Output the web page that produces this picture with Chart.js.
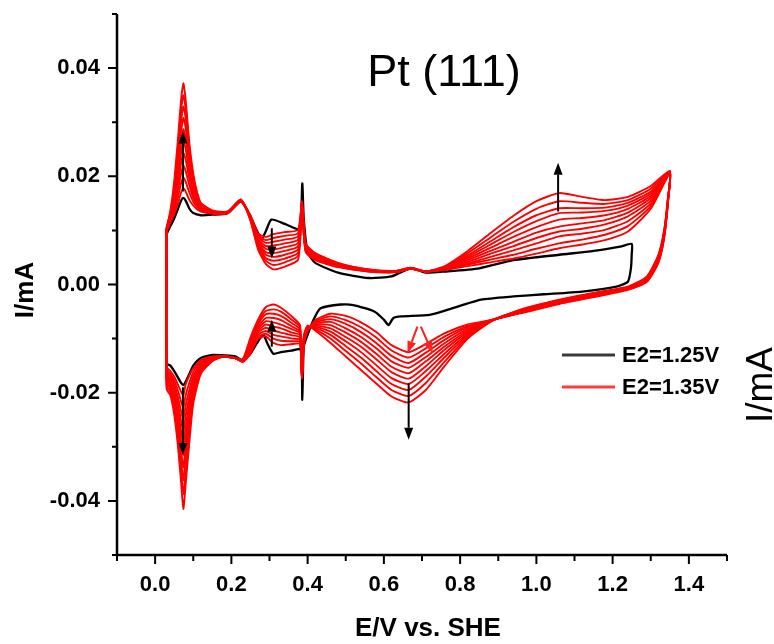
<!DOCTYPE html>
<html>
<head>
<meta charset="utf-8">
<title>Pt (111) cyclic voltammograms</title>
<script src="https://cdn.jsdelivr.net/npm/chart.js@4/dist/chart.umd.min.js"></script>
<style>
  html, body { margin: 0; padding: 0; background: #fff; }
  canvas { display: block; }
</style>
</head>
<body>
<canvas id="cv" width="774" height="644"></canvas>
<script>
// Potential grids (V vs. SHE) for the positive-going and negative-going sweeps
const E_up = [0.03, 0.04, 0.05, 0.06, 0.068, 0.074, 0.08, 0.09, 0.10, 0.11, 0.12, 0.15, 0.19, 0.225, 0.25, 0.27, 0.29, 0.31, 0.34, 0.375, 0.385, 0.395, 0.42, 0.48, 0.56, 0.63, 0.67, 0.71, 0.76, 0.82, 0.88, 0.94, 1.00, 1.06, 1.12, 1.18, 1.24, 1.30, 1.35];
const E_down = [1.345, 1.335, 1.32, 1.29, 1.24, 1.16, 1.06, 0.96, 0.88, 0.82, 0.76, 0.71, 0.665, 0.62, 0.58, 0.54, 0.50, 0.46, 0.42, 0.40, 0.39, 0.385, 0.38, 0.36, 0.33, 0.31, 0.29, 0.27, 0.25, 0.23, 0.21, 0.18, 0.15, 0.12, 0.10, 0.09, 0.08, 0.074, 0.068, 0.06, 0.05, 0.04, 0.03];

// Upper limit 1.25 V (single cycle), current in mA
const black_E_up = [0.03, 0.04, 0.05, 0.06, 0.068, 0.074, 0.08, 0.09, 0.10, 0.12, 0.15, 0.19, 0.225, 0.25, 0.27, 0.28, 0.29, 0.305, 0.34, 0.375, 0.382, 0.386, 0.39, 0.40, 0.42, 0.48, 0.56, 0.62, 0.67, 0.71, 0.76, 0.85, 0.94, 1.06, 1.15, 1.22, 1.25];
const black_I_up = [0.0093, 0.0108, 0.0122, 0.0140, 0.0155, 0.0160, 0.0155, 0.0140, 0.0132, 0.0128, 0.0129, 0.0132, 0.0153, 0.0125, 0.0095, 0.0085, 0.0098, 0.0120, 0.0112, 0.0102, 0.0110, 0.0187, 0.0120, 0.0060, 0.0040, 0.0022, 0.0012, 0.0015, 0.0030, 0.0022, 0.0024, 0.0030, 0.0045, 0.0055, 0.0062, 0.0070, 0.0075];
const black_E_down = [1.25, 1.248, 1.24, 1.21, 1.12, 1.02, 0.94, 0.855, 0.77, 0.72, 0.645, 0.625, 0.612, 0.60, 0.575, 0.52, 0.487, 0.434, 0.417, 0.40, 0.39, 0.386, 0.382, 0.36, 0.33, 0.31, 0.295, 0.284, 0.27, 0.25, 0.23, 0.21, 0.18, 0.15, 0.12, 0.10, 0.09, 0.08, 0.074, 0.068, 0.06, 0.05, 0.04, 0.03];
const black_I_down = [0.0055, 0.0030, 0.0005, -0.0004, -0.0013, -0.0018, -0.0022, -0.0028, -0.0046, -0.0056, -0.0059, -0.0062, -0.0075, -0.0065, -0.0050, -0.0038, -0.0037, -0.0044, -0.0063, -0.0093, -0.0115, -0.0213, -0.0120, -0.0122, -0.0125, -0.0128, -0.0110, -0.0093, -0.0105, -0.0128, -0.0140, -0.0133, -0.0131, -0.0130, -0.0136, -0.0150, -0.0165, -0.0180, -0.0186, -0.0182, -0.0172, -0.0160, -0.0150, -0.0146];

// Upper limit 1.35 V, successive cycles 1..10 (mA), positive-going sweep on E_up
const cycle1_up = [0.0098, 0.0115, 0.0130, 0.0150, 0.0170, 0.0178, 0.0172, 0.0156, 0.0146, 0.0139, 0.0135, 0.0131, 0.0132, 0.0154, 0.0128, 0.0094, 0.0088, 0.0093, 0.0097, 0.0101, 0.0154, 0.0076, 0.0058, 0.0040, 0.0028, 0.0025, 0.0031, 0.0024, 0.0027, 0.0034, 0.0041, 0.0048, 0.0057, 0.0067, 0.0074, 0.0082, 0.0098, 0.0140, 0.0205];
const cycle2_up = [0.0099, 0.0117, 0.0135, 0.0162, 0.0187, 0.0198, 0.0190, 0.0170, 0.0153, 0.0143, 0.0137, 0.0131, 0.0132, 0.0154, 0.0127, 0.0091, 0.0082, 0.0086, 0.0090, 0.0095, 0.0152, 0.0074, 0.0057, 0.0039, 0.0028, 0.0025, 0.0031, 0.0024, 0.0028, 0.0037, 0.0046, 0.0055, 0.0066, 0.0076, 0.0083, 0.0092, 0.0108, 0.0145, 0.0206];
const cycle3_up = [0.0100, 0.0119, 0.0141, 0.0175, 0.0205, 0.0220, 0.0210, 0.0183, 0.0160, 0.0147, 0.0139, 0.0132, 0.0132, 0.0155, 0.0126, 0.0088, 0.0077, 0.0079, 0.0083, 0.0089, 0.0150, 0.0072, 0.0055, 0.0038, 0.0027, 0.0024, 0.0030, 0.0024, 0.0028, 0.0039, 0.0051, 0.0063, 0.0076, 0.0089, 0.0094, 0.0101, 0.0117, 0.0150, 0.0206];
const cycle4_up = [0.0100, 0.0121, 0.0147, 0.0187, 0.0224, 0.0243, 0.0231, 0.0195, 0.0167, 0.0151, 0.0141, 0.0132, 0.0133, 0.0155, 0.0125, 0.0085, 0.0071, 0.0072, 0.0076, 0.0083, 0.0148, 0.0070, 0.0054, 0.0037, 0.0027, 0.0024, 0.0030, 0.0024, 0.0029, 0.0042, 0.0057, 0.0071, 0.0086, 0.0098, 0.0103, 0.0111, 0.0126, 0.0155, 0.0207];
const cycle5_up = [0.0101, 0.0123, 0.0153, 0.0200, 0.0243, 0.0265, 0.0251, 0.0207, 0.0173, 0.0154, 0.0142, 0.0133, 0.0133, 0.0155, 0.0124, 0.0082, 0.0066, 0.0065, 0.0069, 0.0077, 0.0146, 0.0069, 0.0052, 0.0036, 0.0026, 0.0024, 0.0030, 0.0024, 0.0030, 0.0045, 0.0062, 0.0079, 0.0096, 0.0107, 0.0113, 0.0119, 0.0133, 0.0160, 0.0207];
const cycle6_up = [0.0102, 0.0126, 0.0159, 0.0213, 0.0262, 0.0287, 0.0271, 0.0219, 0.0179, 0.0157, 0.0144, 0.0134, 0.0133, 0.0156, 0.0123, 0.0079, 0.0060, 0.0058, 0.0062, 0.0071, 0.0144, 0.0067, 0.0051, 0.0036, 0.0026, 0.0024, 0.0030, 0.0024, 0.0030, 0.0048, 0.0068, 0.0088, 0.0106, 0.0120, 0.0123, 0.0128, 0.0140, 0.0164, 0.0208];
const cycle7_up = [0.0102, 0.0128, 0.0165, 0.0227, 0.0281, 0.0308, 0.0290, 0.0230, 0.0185, 0.0160, 0.0145, 0.0134, 0.0134, 0.0156, 0.0122, 0.0076, 0.0055, 0.0051, 0.0055, 0.0065, 0.0142, 0.0065, 0.0050, 0.0035, 0.0025, 0.0023, 0.0029, 0.0024, 0.0031, 0.0051, 0.0074, 0.0097, 0.0117, 0.0132, 0.0133, 0.0136, 0.0146, 0.0168, 0.0208];
const cycle8_up = [0.0103, 0.0130, 0.0172, 0.0241, 0.0300, 0.0329, 0.0308, 0.0240, 0.0191, 0.0163, 0.0147, 0.0135, 0.0134, 0.0156, 0.0121, 0.0073, 0.0049, 0.0044, 0.0048, 0.0059, 0.0140, 0.0063, 0.0048, 0.0034, 0.0025, 0.0023, 0.0029, 0.0024, 0.0032, 0.0054, 0.0080, 0.0106, 0.0128, 0.0141, 0.0141, 0.0142, 0.0151, 0.0172, 0.0209];
const cycle9_up = [0.0104, 0.0133, 0.0180, 0.0255, 0.0320, 0.0350, 0.0325, 0.0250, 0.0198, 0.0167, 0.0149, 0.0136, 0.0134, 0.0157, 0.0120, 0.0069, 0.0044, 0.0036, 0.0041, 0.0053, 0.0138, 0.0062, 0.0047, 0.0033, 0.0024, 0.0023, 0.0029, 0.0024, 0.0033, 0.0058, 0.0087, 0.0116, 0.0140, 0.0154, 0.0151, 0.0149, 0.0156, 0.0177, 0.0209];
const cycle10_up = [0.0105, 0.0136, 0.0190, 0.0270, 0.0340, 0.0372, 0.0342, 0.0260, 0.0205, 0.0171, 0.0151, 0.0137, 0.0135, 0.0157, 0.0118, 0.0065, 0.0038, 0.0028, 0.0033, 0.0046, 0.0135, 0.0060, 0.0045, 0.0032, 0.0024, 0.0023, 0.0029, 0.0024, 0.0034, 0.0062, 0.0095, 0.0127, 0.0154, 0.0169, 0.0162, 0.0156, 0.0162, 0.0182, 0.0210];

// Negative-going sweep on E_down, cycles 1..10 (mA)
const cycle1_down = [0.0150, 0.0085, 0.0040, 0.0005, -0.0010, -0.0022, -0.0036, -0.0053, -0.0066, -0.0074, -0.0090, -0.0110, -0.0125, -0.0112, -0.0088, -0.0070, -0.0058, -0.0054, -0.0066, -0.0086, -0.0112, -0.0174, -0.0110, -0.0110, -0.0112, -0.0108, -0.0096, -0.0100, -0.0128, -0.0143, -0.0136, -0.0133, -0.0133, -0.0140, -0.0155, -0.0168, -0.0185, -0.0205, -0.0198, -0.0185, -0.0170, -0.0160, -0.0152];
const cycle2_down = [0.0151, 0.0087, 0.0042, 0.0006, -0.0009, -0.0021, -0.0035, -0.0052, -0.0066, -0.0077, -0.0096, -0.0118, -0.0135, -0.0122, -0.0098, -0.0079, -0.0066, -0.0059, -0.0068, -0.0085, -0.0110, -0.0172, -0.0106, -0.0105, -0.0104, -0.0100, -0.0091, -0.0097, -0.0125, -0.0143, -0.0136, -0.0133, -0.0134, -0.0143, -0.0162, -0.0181, -0.0205, -0.0227, -0.0216, -0.0197, -0.0177, -0.0165, -0.0156];
const cycle3_down = [0.0152, 0.0088, 0.0043, 0.0007, -0.0009, -0.0020, -0.0034, -0.0052, -0.0066, -0.0079, -0.0102, -0.0126, -0.0145, -0.0132, -0.0108, -0.0088, -0.0073, -0.0064, -0.0070, -0.0084, -0.0108, -0.0171, -0.0102, -0.0100, -0.0096, -0.0093, -0.0086, -0.0093, -0.0122, -0.0142, -0.0136, -0.0133, -0.0135, -0.0146, -0.0169, -0.0194, -0.0224, -0.0249, -0.0234, -0.0209, -0.0184, -0.0169, -0.0160];
const cycle4_down = [0.0153, 0.0090, 0.0045, 0.0008, -0.0008, -0.0019, -0.0033, -0.0051, -0.0067, -0.0082, -0.0108, -0.0134, -0.0154, -0.0142, -0.0118, -0.0097, -0.0081, -0.0069, -0.0072, -0.0083, -0.0106, -0.0169, -0.0098, -0.0094, -0.0089, -0.0085, -0.0080, -0.0089, -0.0119, -0.0142, -0.0136, -0.0133, -0.0136, -0.0149, -0.0176, -0.0207, -0.0243, -0.0271, -0.0252, -0.0221, -0.0191, -0.0174, -0.0164];
const cycle5_down = [0.0154, 0.0091, 0.0046, 0.0009, -0.0007, -0.0018, -0.0032, -0.0050, -0.0067, -0.0085, -0.0114, -0.0142, -0.0164, -0.0152, -0.0128, -0.0106, -0.0089, -0.0075, -0.0074, -0.0082, -0.0104, -0.0168, -0.0094, -0.0089, -0.0081, -0.0078, -0.0074, -0.0086, -0.0116, -0.0141, -0.0136, -0.0133, -0.0137, -0.0151, -0.0183, -0.0220, -0.0262, -0.0293, -0.0270, -0.0233, -0.0198, -0.0178, -0.0168];
const cycle6_down = [0.0155, 0.0093, 0.0048, 0.0010, -0.0007, -0.0018, -0.0031, -0.0049, -0.0067, -0.0088, -0.0120, -0.0151, -0.0174, -0.0162, -0.0138, -0.0115, -0.0097, -0.0081, -0.0076, -0.0081, -0.0102, -0.0166, -0.0090, -0.0083, -0.0074, -0.0070, -0.0068, -0.0082, -0.0113, -0.0141, -0.0136, -0.0133, -0.0138, -0.0154, -0.0190, -0.0233, -0.0281, -0.0315, -0.0289, -0.0245, -0.0205, -0.0183, -0.0172];
const cycle7_down = [0.0156, 0.0094, 0.0050, 0.0011, -0.0006, -0.0017, -0.0031, -0.0048, -0.0067, -0.0091, -0.0127, -0.0160, -0.0184, -0.0173, -0.0149, -0.0125, -0.0105, -0.0087, -0.0078, -0.0080, -0.0100, -0.0165, -0.0087, -0.0078, -0.0066, -0.0062, -0.0062, -0.0078, -0.0110, -0.0140, -0.0136, -0.0133, -0.0139, -0.0157, -0.0197, -0.0246, -0.0300, -0.0338, -0.0307, -0.0257, -0.0212, -0.0188, -0.0176];
const cycle8_down = [0.0157, 0.0096, 0.0051, 0.0012, -0.0005, -0.0016, -0.0030, -0.0048, -0.0068, -0.0094, -0.0134, -0.0170, -0.0195, -0.0184, -0.0160, -0.0135, -0.0114, -0.0093, -0.0080, -0.0079, -0.0098, -0.0163, -0.0083, -0.0072, -0.0058, -0.0054, -0.0055, -0.0074, -0.0106, -0.0140, -0.0136, -0.0133, -0.0140, -0.0159, -0.0204, -0.0259, -0.0320, -0.0362, -0.0325, -0.0270, -0.0220, -0.0193, -0.0181];
const cycle9_down = [0.0158, 0.0098, 0.0053, 0.0013, -0.0005, -0.0015, -0.0029, -0.0047, -0.0068, -0.0097, -0.0142, -0.0182, -0.0206, -0.0195, -0.0171, -0.0146, -0.0123, -0.0100, -0.0083, -0.0078, -0.0097, -0.0162, -0.0079, -0.0066, -0.0050, -0.0046, -0.0049, -0.0070, -0.0102, -0.0139, -0.0136, -0.0133, -0.0141, -0.0162, -0.0212, -0.0274, -0.0345, -0.0388, -0.0345, -0.0285, -0.0230, -0.0199, -0.0187];
const cycle10_down = [0.0160, 0.0100, 0.0055, 0.0015, -0.0004, -0.0014, -0.0028, -0.0046, -0.0069, -0.0100, -0.0150, -0.0195, -0.0218, -0.0207, -0.0183, -0.0158, -0.0133, -0.0108, -0.0085, -0.0076, -0.0095, -0.0160, -0.0075, -0.0060, -0.0043, -0.0037, -0.0042, -0.0065, -0.0098, -0.0138, -0.0136, -0.0133, -0.0142, -0.0165, -0.0220, -0.0290, -0.0370, -0.0415, -0.0365, -0.0300, -0.0240, -0.0205, -0.0193];

// Axis ticks
const xTickValues = [0.0, 0.2, 0.4, 0.6, 0.8, 1.0, 1.2, 1.4];
const xTickLabels = ['0.0', '0.2', '0.4', '0.6', '0.8', '1.0', '1.2', '1.4'];
const xMinorTicks = [-0.1, 0.1, 0.3, 0.5, 0.7, 0.9, 1.1, 1.3, 1.5];
const yTickValues = [-0.04, -0.02, 0.00, 0.02, 0.04];
const yTickLabels = ['-0.04', '-0.02', '0.00', '0.02', '0.04'];
const yMinorTicks = [-0.05, -0.03, -0.01, 0.01, 0.03, 0.05];

// Legend entries
const seriesLabels = ['E2=1.25V', 'E2=1.35V'];

// Trend arrows (potential, start current, end current) in data units
const arrowE = [0.073, 0.306, 1.057, 0.073, 0.306, 0.665];
const arrowFromI = [0.0172, 0.0104, 0.0135, -0.0190, -0.0115, -0.0183];
const arrowToI = [0.0283, 0.0048, 0.0225, -0.0315, -0.0065, -0.0287];
const redArrowFromE = [0.688, 0.697];
const redArrowToE = [0.662, 0.728];
const redArrowFromI = [-0.0078, -0.0078];
const redArrowToI = [-0.0127, -0.0127];

const FONT = '"Liberation Sans", Arial, Helvetica, sans-serif';

function loop(eUp, iUp, eDown, iDown) {
  const pts = [];
  eUp.forEach((e, k) => pts.push({ x: e, y: iUp[k] }));
  eDown.forEach((e, k) => pts.push({ x: e, y: iDown[k] }));
  pts.push({ x: eUp[0], y: iUp[0] });   // step back to the start potential
  return pts;
}

const redCycles = [
  [cycle1_up, cycle1_down], [cycle2_up, cycle2_down], [cycle3_up, cycle3_down],
  [cycle4_up, cycle4_down], [cycle5_up, cycle5_down], [cycle6_up, cycle6_down],
  [cycle7_up, cycle7_down], [cycle8_up, cycle8_down], [cycle9_up, cycle9_down],
  [cycle10_up, cycle10_down]
];

// the single 1.25 V cycle sits underneath the 1.35 V family
const datasets = [{
  label: seriesLabels[0],
  data: loop(black_E_up, black_I_up, black_E_down, black_I_down),
  borderColor: '#000000',
  borderWidth: 2.3,
  showLine: true,
  pointRadius: 0,
  tension: 0.2,
  order: 1
}];
redCycles.forEach(([up, down], k) => {
  datasets.push({
    label: k === 0 ? seriesLabels[1] : seriesLabels[1] + ' #' + (k + 1),
    data: loop(E_up, up, E_down, down),
    borderColor: '#ff0000',
    borderWidth: 1.9,
    showLine: true,
    pointRadius: 0,
    tension: 0.2,
    order: 0
  });
});

function arrow(ctx, x0, y0, x1, y1, color) {
  const ang = Math.atan2(y1 - y0, x1 - x0);
  const len = 12, half = 4.5;
  const bx = x1 - len * Math.cos(ang), by = y1 - len * Math.sin(ang);
  ctx.strokeStyle = color;
  ctx.fillStyle = color;
  ctx.lineWidth = 2;
  ctx.beginPath();
  ctx.moveTo(x0, y0);
  ctx.lineTo(bx, by);
  ctx.stroke();
  ctx.beginPath();
  ctx.moveTo(x1, y1);
  ctx.lineTo(bx + half * Math.sin(ang), by - half * Math.cos(ang));
  ctx.lineTo(bx - half * Math.sin(ang), by + half * Math.cos(ang));
  ctx.closePath();
  ctx.fill();
}

const decorations = {
  id: 'decorations',
  afterDatasetsDraw(chart) {
    const { ctx, scales: { x, y } } = chart;
    ctx.save();
    arrowE.forEach((e, k) => {
      const px = x.getPixelForValue(e);
      arrow(ctx, px, y.getPixelForValue(arrowFromI[k]), px, y.getPixelForValue(arrowToI[k]), '#000');
    });
    redArrowFromE.forEach((e, k) => {
      arrow(ctx, x.getPixelForValue(e), y.getPixelForValue(redArrowFromI[k]),
        x.getPixelForValue(redArrowToE[k]), y.getPixelForValue(redArrowToI[k]), '#ff2020');
    });
    ctx.restore();
  },
  afterDraw(chart) {
    const { ctx, chartArea: a, scales: { x, y } } = chart;
    ctx.save();
    // axis lines
    ctx.strokeStyle = '#000';
    ctx.lineWidth = 2.5;
    ctx.beginPath();
    ctx.moveTo(a.left, a.top);
    ctx.lineTo(a.left, a.bottom);
    ctx.lineTo(a.right, a.bottom);
    ctx.stroke();
    // tick marks (outside)
    ctx.lineWidth = 2;
    ctx.beginPath();
    xTickValues.forEach(v => { const p = x.getPixelForValue(v); ctx.moveTo(p, a.bottom); ctx.lineTo(p, a.bottom + 9); });
    xMinorTicks.forEach(v => { const p = x.getPixelForValue(v); ctx.moveTo(p, a.bottom); ctx.lineTo(p, a.bottom + 6); });
    yTickValues.forEach(v => { const p = y.getPixelForValue(v); ctx.moveTo(a.left, p); ctx.lineTo(a.left - 9, p); });
    yMinorTicks.forEach(v => { const p = y.getPixelForValue(v); ctx.moveTo(a.left, p); ctx.lineTo(a.left - 5, p); });
    ctx.stroke();

    // panel title
    ctx.fillStyle = '#000';
    ctx.textAlign = 'center';
    ctx.textBaseline = 'alphabetic';
    ctx.font = '45px ' + FONT;
    ctx.fillText('Pt (111)', 444, 86);

    // axis titles
    ctx.font = 'bold 26px ' + FONT;
    ctx.textAlign = 'left';
    ctx.fillText('E/V vs. SHE', 355, 636);
    ctx.save();
    ctx.translate(33, 290);
    ctx.rotate(-Math.PI / 2);
    ctx.textAlign = 'center';
    ctx.fillText('I/mA', 0, 0);
    ctx.restore();
    ctx.save();
    ctx.translate(772, 385);
    ctx.rotate(-Math.PI / 2);
    ctx.textAlign = 'center';
    ctx.font = '37px ' + FONT;
    ctx.fillText('I/mA', 0, 0);
    ctx.restore();

    // legend
    const legendColors = ['#3a3a3a', '#ff3b3b'];
    const legendY = [355, 387];
    ctx.font = 'bold 22px ' + FONT;
    ctx.textAlign = 'left';
    ctx.textBaseline = 'middle';
    seriesLabels.forEach((lab, k) => {
      ctx.strokeStyle = legendColors[k];
      ctx.lineWidth = 3;
      ctx.beginPath();
      ctx.moveTo(562, legendY[k]);
      ctx.lineTo(615, legendY[k]);
      ctx.stroke();
      ctx.fillStyle = '#000';
      ctx.fillText(lab, 622, legendY[k] + 1);
    });
    ctx.restore();
  }
};

new Chart(document.getElementById('cv'), {
  type: 'scatter',
  data: { datasets },
  options: {
    responsive: false,
    animation: false,
    layout: { padding: { top: 14, right: 47, left: 0, bottom: 0 } },
    plugins: { legend: { display: false }, tooltip: { enabled: false }, title: { display: false } },
    elements: { line: { borderJoinStyle: 'round', borderCapStyle: 'round' } },
    scales: {
      x: {
        type: 'linear',
        min: -0.1,
        max: 1.5,
        grid: { display: false, drawTicks: false },
        border: { display: false },
        afterBuildTicks: s => { s.ticks = xTickValues.map(v => ({ value: v })); },
        afterFit: s => { s.height = 89; s.paddingLeft = 0; s.paddingRight = 0; },
        ticks: {
          color: '#000',
          padding: 17,
          maxRotation: 0,
          autoSkip: false,
          font: { family: FONT, size: 22, weight: 'bold' },
          callback: v => { const k = xTickValues.findIndex(t => Math.abs(t - v) < 1e-9); return k >= 0 ? xTickLabels[k] : ''; }
        }
      },
      y: {
        type: 'linear',
        min: -0.05,
        max: 0.05,
        grid: { display: false, drawTicks: false },
        border: { display: false },
        afterBuildTicks: s => { s.ticks = yTickValues.map(v => ({ value: v })); },
        afterFit: s => { s.width = 117; s.paddingTop = 0; s.paddingBottom = 0; },
        ticks: {
          color: '#000',
          padding: 17,
          autoSkip: false,
          font: { family: FONT, size: 22, weight: 'bold' },
          callback: v => { const k = yTickValues.findIndex(t => Math.abs(t - v) < 1e-9); return k >= 0 ? yTickLabels[k] : ''; }
        }
      }
    }
  },
  plugins: [decorations]
});
</script>
</body>
</html>
